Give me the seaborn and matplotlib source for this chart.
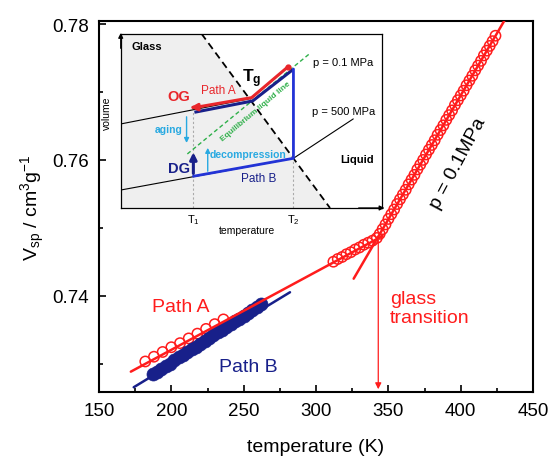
import matplotlib
matplotlib.use('Agg')
import matplotlib.pyplot as plt
import seaborn as sns
from matplotlib.ticker import MultipleLocator, FormatStrFormatter

# ---- main plot data ----
# Path A, p = 0.1 MPa, open red circles
path_a_T = [182, 188, 194, 200, 206, 212, 218, 224, 230, 236,
            312, 315, 318, 321, 324, 327, 330, 333, 336, 339, 342,
            344, 346, 348, 350, 352, 354, 356, 358, 360, 362,
            364, 366, 368, 370, 372, 374, 376, 378, 380, 382,
            384, 386, 388, 390, 392, 394, 396, 398, 400, 402,
            404, 406, 408, 410, 412, 414, 416, 418, 420, 422, 424]
path_a_V = [0.7303, 0.7310, 0.7317, 0.7324, 0.7330, 0.7337, 0.7344, 0.7351, 0.7358, 0.7365,
            0.7450, 0.7454, 0.7457, 0.7461, 0.7464, 0.7468, 0.7471, 0.7475, 0.7478, 0.7481, 0.7485,
            0.7491, 0.7498, 0.7505, 0.7513, 0.7520, 0.7527, 0.7535, 0.7542, 0.7549, 0.7556,
            0.7564, 0.7571, 0.7578, 0.7586, 0.7593, 0.7600, 0.7608, 0.7615, 0.7622, 0.7629,
            0.7637, 0.7644, 0.7651, 0.7659, 0.7666, 0.7673, 0.7681, 0.7688, 0.7695, 0.7702,
            0.7710, 0.7717, 0.7724, 0.7732, 0.7739, 0.7746, 0.7754, 0.7761, 0.7768, 0.7775, 0.7783]

# Path B, filled blue circles
path_b_T = [187, 190, 193, 196, 199, 202, 205, 208, 211, 214, 217, 220, 223,
            226, 229, 232, 235, 238, 241, 244, 247, 250, 253, 256, 259, 262]
path_b_V = [0.7284, 0.7288, 0.7292, 0.7296, 0.7300, 0.7305, 0.7309, 0.7313, 0.7317,
            0.7321, 0.7325, 0.7329, 0.7333, 0.7337, 0.7342, 0.7346, 0.7350, 0.7354,
            0.7358, 0.7362, 0.7366, 0.7370, 0.7374, 0.7379, 0.7383, 0.7387]

# linear fits
fit_glass_T = [172, 346]
fit_glass_V = [0.7288, 0.7488]
fit_liquid_T = [326, 432]
fit_liquid_V = [0.7425, 0.7812]
fit_b_T = [174, 282]
fit_b_V = [0.7265, 0.7405]

tg_T, tg_V = 343, 0.7486

# ---- inset schematic (axis fractions) ----
glass_region_u = [0, 0, 0.309, 0.801]
glass_region_v = [0, 1, 1, 0]
tg_line_u = [0.309, 0.801]
tg_line_v = [1, 0]
p01_u = [0, 0.501]
p01_v = [0.482, 0.629]
p500_u = [0, 0.661, 0.890]
p500_v = [0.103, 0.285, 0.511]
equil_u = [0.255, 0.722]
equil_v = [0.310, 0.884]
navy_u = [0.282, 0.505, 0.659]
navy_v = [0.549, 0.614, 0.794]
path_a_u = [0.641, 0.501, 0.290]
path_a_v = [0.811, 0.633, 0.578]
path_b_u = [0.661, 0.661, 0.278]
path_b_v = [0.797, 0.285, 0.182]
T1_u, T2_u = 0.278, 0.661

RED = '#ff1c1c'
NAVY = '#18208a'
BLUE = '#2233d6'
CYAN = '#28a9e1'
GREEN = '#2fb04a'

sns.set_style('ticks')
plt.rcParams['font.family'] = ['Liberation Sans', 'DejaVu Sans']
plt.rcParams['mathtext.fontset'] = 'custom'
plt.rcParams['mathtext.rm'] = 'Liberation Sans'
plt.rcParams['mathtext.it'] = 'Liberation Sans:italic'
plt.rcParams['mathtext.bf'] = 'Liberation Sans:bold'
plt.rcParams['text.color'] = 'black'
plt.rcParams['axes.labelcolor'] = 'black'
plt.rcParams['xtick.color'] = 'black'
plt.rcParams['ytick.color'] = 'black'

fig = plt.figure(figsize=(5.53, 4.64), dpi=100)
ax = fig.add_axes([0.179, 0.153, 0.785, 0.8])

sns.scatterplot(x=path_a_T, y=path_a_V, ax=ax, s=55, facecolor='none',
                edgecolor=RED, linewidth=1.1, zorder=3)
sns.scatterplot(x=path_b_T, y=path_b_V, ax=ax, s=88, color=NAVY,
                edgecolor=NAVY, linewidth=0.5, zorder=4)
sns.lineplot(x=fit_b_T, y=fit_b_V, ax=ax, color=NAVY, lw=1.8, zorder=4.5)
sns.lineplot(x=fit_glass_T, y=fit_glass_V, ax=ax, color=RED, lw=1.8, zorder=5)
sns.lineplot(x=fit_liquid_T, y=fit_liquid_V, ax=ax, color=RED, lw=1.8, zorder=5)

ax.set_xlim(150, 450)
ax.set_ylim(0.7258, 0.7805)
ax.xaxis.set_major_locator(MultipleLocator(50))
ax.xaxis.set_minor_locator(MultipleLocator(25))
ax.yaxis.set_major_locator(MultipleLocator(0.02))
ax.yaxis.set_minor_locator(MultipleLocator(0.01))
ax.yaxis.set_major_formatter(FormatStrFormatter('%.2f'))
ax.tick_params(which='both', direction='in', width=1.2, labelsize=13.5, pad=7)
ax.tick_params(which='major', length=5)
ax.tick_params(which='minor', length=3)
for sp in ax.spines.values():
    sp.set_linewidth(1.5)
    sp.set_color('black')

ax.set_xlabel('temperature (K)', fontsize=14, labelpad=14)
ax.set_ylabel(r'$\mathregular{V_{sp}}$ / cm$^{3}$g$^{-1}$', fontsize=14, labelpad=4)

ax.annotate('', xy=(tg_T, 0.7258), xytext=(tg_T, tg_V),
            arrowprops=dict(arrowstyle='-|>', color=RED, lw=0.9, mutation_scale=9))
ax.text(351, 0.7382, 'glass\ntransition', color=RED, fontsize=14, ha='left', va='center')
ax.text(206.7, 0.7384, 'Path A', color=RED, fontsize=14, ha='center', va='center')
ax.text(253, 0.7296, 'Path B', color=NAVY, fontsize=14, ha='center', va='center')
ax.text(398, 0.7596, 'p = 0.1MPa', fontsize=14, rotation=62, ha='center', va='center',
        rotation_mode='anchor')

# ---- inset ----
ax_in = fig.add_axes([0.2183, 0.5496, 0.4725, 0.3757])
ax_in.set_xlim(0, 1)
ax_in.set_ylim(0, 1)
ax_in.set_xticks([])
ax_in.set_yticks([])
ax_in.set_facecolor('white')
for sp in ax_in.spines.values():
    sp.set_linewidth(0.9)
    sp.set_color('black')

ax_in.fill(glass_region_u, glass_region_v, color='#efefef', zorder=0, lw=0)
ax_in.plot(tg_line_u, tg_line_v, color='black', lw=1.3, ls=(0, (4, 2.5)), zorder=1)
ax_in.plot(p01_u, p01_v, color='black', lw=0.8, zorder=2)
ax_in.plot(p500_u, p500_v, color='black', lw=0.8, zorder=2)
ax_in.plot(equil_u, equil_v, color=GREEN, lw=1.0, ls=(0, (3, 2)), zorder=2)
ax_in.plot([T1_u, T1_u], [0, navy_v[0]], color='#aaaaaa', lw=0.8, ls=(0, (2, 2)), zorder=1)
ax_in.plot([T2_u, T2_u], [0, path_b_v[1]], color='#aaaaaa', lw=0.8, ls=(0, (2, 2)), zorder=1)

ax_in.plot(navy_u, navy_v, color=NAVY, lw=2.2, zorder=3, solid_capstyle='butt')
ax_in.plot(path_b_u, path_b_v, color=BLUE, lw=2.0, zorder=3)
ax_in.plot(path_a_u, path_a_v, color='#e8262b', lw=2.2, zorder=4)
ax_in.plot(path_a_u[0], path_a_v[0], 'o', color='#e8262b', ms=3.5, zorder=4)
ax_in.annotate('', xy=(0.255, 0.576), xytext=(path_a_u[-1], path_a_v[-1]),
               arrowprops=dict(arrowstyle='-|>', color='#e8262b', lw=2.2, mutation_scale=10),
               zorder=4)
ax_in.annotate('', xy=(T1_u, 0.335), xytext=(T1_u, path_b_v[-1]),
               arrowprops=dict(arrowstyle='-|>', color=NAVY, lw=2.2, mutation_scale=10),
               zorder=4)
ax_in.annotate('', xy=(0.252, 0.357), xytext=(0.252, 0.539),
               arrowprops=dict(arrowstyle='-|>', color=CYAN, lw=1.0, mutation_scale=7))
ax_in.annotate('', xy=(0.333, 0.361), xytext=(0.333, 0.195),
               arrowprops=dict(arrowstyle='-|>', color=CYAN, lw=1.0, mutation_scale=7))

# axis arrows
ax_in.annotate('', xy=(0, 1.02), xytext=(0, 0.9), xycoords='axes fraction',
               arrowprops=dict(arrowstyle='-|>', color='black', lw=0.9, mutation_scale=7),
               annotation_clip=False)
ax_in.annotate('', xy=(1.02, 0), xytext=(0.9, 0), xycoords='axes fraction',
               arrowprops=dict(arrowstyle='-|>', color='black', lw=0.9, mutation_scale=7),
               annotation_clip=False)

ax_in.text(0.098, 0.928, 'Glass', fontsize=8, fontweight='bold', ha='center', va='center')
ax_in.text(0.903, 0.281, 'Liquid', fontsize=8, fontweight='bold', ha='center', va='center')
ax_in.text(0.852, 0.836, 'p = 0.1 MPa', fontsize=8, ha='center', va='center')
ax_in.text(0.852, 0.558, 'p = 500 MPa', fontsize=8, ha='center', va='center')
ax_in.text(0.223, 0.644, 'OG', fontsize=10.5, fontweight='bold', color='#e8262b',
           ha='center', va='center')
ax_in.text(0.223, 0.229, 'DG', fontsize=10.5, fontweight='bold', color=NAVY,
           ha='center', va='center')
ax_in.text(0.182, 0.453, 'aging', fontsize=7.5, fontweight='bold', color=CYAN,
           ha='center', va='center')
ax_in.text(0.488, 0.310, 'decompression', fontsize=7.5, fontweight='bold', color=CYAN,
           ha='center', va='center')
ax_in.text(0.374, 0.679, 'Path A', fontsize=8.5, color='#e8262b', ha='center', va='center')
ax_in.text(0.527, 0.170, 'Path B', fontsize=8.5, color=NAVY, ha='center', va='center')
ax_in.text(0.501, 0.750, r'$\mathbf{T_g}$', fontsize=12.5, ha='center', va='center')
ax_in.text(0.518, 0.555, 'Equilibrium liquid line', fontsize=6, fontweight='bold',
           color=GREEN, rotation=40, ha='center', va='center', rotation_mode='anchor')
ax_in.text(T1_u, -0.065, r'T$_1$', fontsize=8, ha='center', va='center')
ax_in.text(T2_u, -0.065, r'T$_2$', fontsize=8, ha='center', va='center')
ax_in.text(0.482, -0.125, 'temperature', fontsize=7.5, ha='center', va='center')
ax_in.text(-0.053, 0.549, 'volume', fontsize=7.5, rotation=90, ha='center', va='center')

fig.savefig('out.png', dpi=100)
